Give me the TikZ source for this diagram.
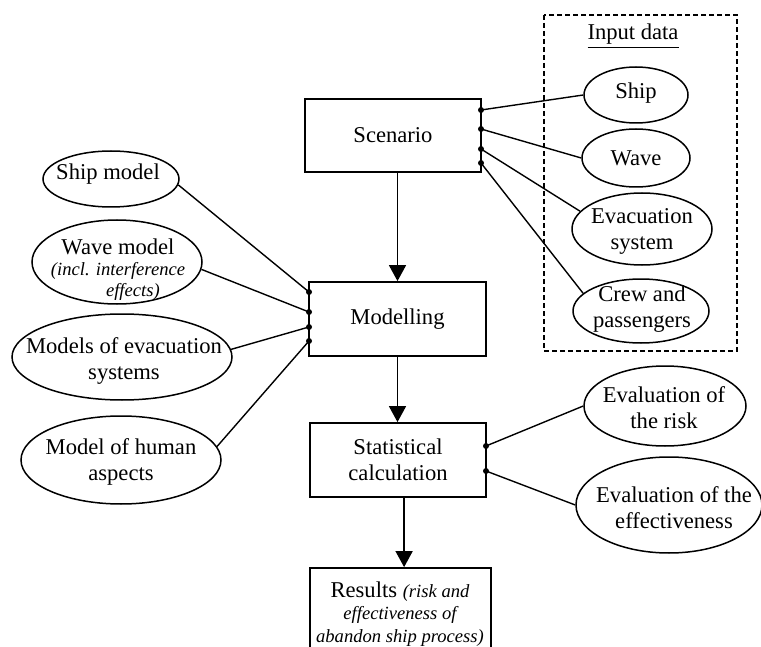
\documentclass[tikz,border=0pt]{standalone}
\usepackage{fontspec}
\setmainfont{Liberation Serif}
\usetikzlibrary{arrows.meta,shapes.geometric}
\newcommand{\smallit}[1]{{\fontsize{9.3}{10}\selectfont\itshape #1}}
\tikzset{
  box/.style={draw, line width=0.9pt, rectangle, inner sep=0pt, align=center,
    font=\fontsize{11.3}{13}\selectfont},
  bub/.style={draw, line width=0.75pt, ellipse, inner sep=0pt},
  lbl/.style={align=center, inner sep=0pt, font=\fontsize{11.3}{13}\selectfont},
  frame/.style={line width=0.8pt, dash pattern=on 2.5pt off 1.5pt},
  link/.style={line width=0.7pt},
  arr/.style={line width=0.8pt, -{Triangle[width=8.5pt,length=8pt]}}
}

\begin{document}
\begin{tikzpicture}[x=0.5pt,y=-0.5pt]
    \clip (0,0) rectangle (761,647);
    % main chain
    \node[box,minimum width=88pt,minimum height=36.5pt] (scen) at (393,135.5) {Scenario};
    \node[box,minimum width=88.5pt,minimum height=37pt] (model) at (397.5,319) {Modelling};
    \node[box,minimum width=88pt,minimum height=37pt] (stat) at (398,460) {Statistical\\calculation};
    \node[box,minimum width=90.5pt,minimum height=66pt] (res) at (400.5,634) {};
    \node[lbl,font=\fontsize{11.3}{11.3}\selectfont] (res-t) at (400,614)
        {Results \smallit{(risk and}\\\smallit{effectiveness of}\\\smallit{abandon ship process)}};
    % input data
    \draw[frame] (544,15) rectangle (737,351);
    \node[lbl] (inp) at (633,36) {\underline{Input data}};
    \node[bub,minimum width=52pt,minimum height=28pt] (ship) at (636,95) {};
    \node[bub,minimum width=54pt,minimum height=29pt] (wave) at (636,158) {};
    \node[bub,minimum width=70pt,minimum height=36pt] (evac) at (642,229) {};
    \node[bub,minimum width=68pt,minimum height=32pt] (crew) at (641,311) {};
    \node[lbl] (ship-t) at (636,93) {Ship};
    \node[lbl] (wave-t) at (636,158) {Wave};
    \node[lbl] (evac-t) at (642,231) {Evacuation\\system};
    \node[lbl] (crew-t) at (642,309) {Crew and\\passengers};
    % models
    \node[bub,minimum width=68pt,minimum height=28pt] (shipm) at (111,179) {};
    \node[bub,minimum width=85pt,minimum height=42pt] (wavem) at (117,262) {};
    \node[bub,minimum width=110pt,minimum height=43pt] (evacm) at (122,357) {};
    \node[bub,minimum width=100pt,minimum height=44pt] (human) at (121,460) {};
    \node[lbl] (shipm-t) at (108,174) {Ship model};
    \node[lbl,font=\fontsize{11.3}{10.5}\selectfont] (wavem-t) at (118,270)
        {Wave model\\\smallit{(incl. interference}\\\smallit{\hspace*{1.6em}effects)}};
    \node[lbl] (evacm-t) at (124,361) {Models of evacuation\\systems};
    \node[lbl] (human-t) at (121,462) {Model of human\\aspects};
    % evaluation
    \node[bub,minimum width=81pt,minimum height=40pt] (risk) at (665,406) {};
    \node[bub,minimum width=93pt,minimum height=48pt] (eff) at (669,505) {};
    \node[lbl] (risk-t) at (664,408) {Evaluation of\\the risk};
    \node[lbl] (eff-t) at (674,508) {Evaluation of the\\effectiveness};
    % connection points
    \coordinate (s1) at (481,110);
    \coordinate (s2) at (481,129);
    \coordinate (s3) at (481,149);
    \coordinate (s4) at (481,163);
    \coordinate (m1) at (309,292);
    \coordinate (m2) at (309,312);
    \coordinate (m3) at (309,327);
    \coordinate (m4) at (309,341);
    \coordinate (c1) at (486,446);
    \coordinate (c2) at (486,471);
    \draw[link] (s1) -- (ship.west);
    \draw[link] (s2) -- (wave.west);
    \draw[link] (s3) -- (evac.164);
    \draw[link] (s4) -- (crew.163);
    \draw[link] (m1) -- (shipm.-5);
    \draw[link] (m2) -- (wavem.-5);
    \draw[link] (m3) -- (evacm.4);
    \draw[link] (m4) -- (human.8);
    \draw[link] (c1) -- (risk.west);
    \draw[link] (c2) -- (eff.west);
    \foreach \d in {s1,s2,s3,s4,m1,m2,m3,m4,c1,c2} \fill (\d) circle (1.5pt);
    % flow
    \draw[arr] (scen.south -| model.north) -- (model.north);
    \draw[arr] (model.south) -- (model.south |- stat.north);
    \draw[arr] ([xshift=1.8pt]stat.south -| res.north) -- ([xshift=1.8pt]res.north);
\end{tikzpicture}
\end{document}
